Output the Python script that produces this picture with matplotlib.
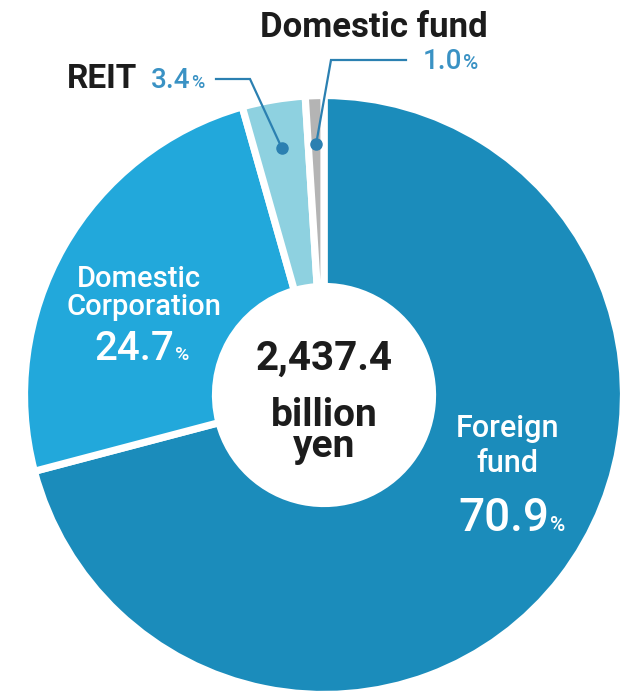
import numpy as np
import matplotlib
matplotlib.use("Agg")
import matplotlib.pyplot as plt

# shares of the total, clockwise from 12 o'clock
labels = ["Foreign fund", "Domestic Corporation", "REIT", "Domestic fund"]
shares = [70.9, 24.7, 3.4, 1.0]
colors = ["#1b8cbb", "#22a8db", "#8ed1e0", "#b4b4b4"]
total_text = ["2,437.4", "billion", "yen"]

W, H = 621, 694
BLUE = "#3a92c4"
LINE = "#2b80b1"
DARK = "#1c1c1c"
plt.rcParams['font.family'] = ['Roboto', 'DejaVu Sans']


def Y(y):
    # pixel row from the top -> data y
    return H - y


fig = plt.figure(figsize=(W / 100, H / 100), dpi=100)
ax = fig.add_axes([0, 0, 1, 1])

cx, cy = 324, Y(395)
r_out = 299.5
ring = 191
wedges, _ = ax.pie(shares, colors=colors, startangle=90, counterclock=False,
                   radius=r_out, center=(cx, cy), frame=True,
                   wedgeprops=dict(width=ring, edgecolor='white', linewidth=5.2))
ax.set_xlim(0, W)
ax.set_ylim(0, H)
ax.set_aspect('equal')
ax.axis('off')

# centre total
ax.text(cx, Y(370), total_text[0], ha='center', va='baseline', fontsize=29,
        fontweight='bold', color=DARK)
ax.text(cx, Y(457), total_text[1] + "\n" + total_text[2], ha='center',
        va='baseline', fontsize=28, fontweight='bold', color=DARK,
        linespacing=0.8, multialignment='center')


def mid_point(w, r):
    a = np.deg2rad((w.theta1 + w.theta2) / 2)
    return cx + r * np.cos(a), cy + r * np.sin(a)


# foreign fund (inside)
ax.text(508, Y(437), "Foreign", ha='center', va='baseline', fontsize=22,
        fontweight='medium', color='white')
ax.text(507, Y(472), "fund", ha='center', va='baseline', fontsize=22,
        fontweight='medium', color='white')
ax.text(549, Y(531), f"{shares[0]:.1f}", ha='right', va='baseline', fontsize=33,
        fontweight='medium', color='white')
ax.text(550, Y(531), "%", ha='left', va='baseline', fontsize=15,
        fontweight='medium', color='white')

# domestic corporation (inside)
ax.text(139, Y(287), "Domestic", ha='center', va='baseline', fontsize=21,
        fontweight='medium', color='white')
ax.text(144, Y(315), "Corporation", ha='center', va='baseline', fontsize=21,
        fontweight='medium', color='white')
ax.text(174, Y(360), f"{shares[1]:.1f}", ha='right', va='baseline', fontsize=29,
        fontweight='medium', color='white')
ax.text(175, Y(360), "%", ha='left', va='baseline', fontsize=14,
        fontweight='medium', color='white')

# REIT (outside, leader line)
ax.text(67, Y(88), "REIT", ha='left', va='baseline', fontsize=24,
        fontweight='bold', color=DARK)
ax.text(190, Y(88), f"{shares[2]:.1f}", ha='right', va='baseline', fontsize=20,
        fontweight='medium', color=BLUE)
ax.text(191, Y(88), "%", ha='left', va='baseline', fontsize=13,
        fontweight='medium', color=BLUE)
px, py = mid_point(wedges[2], 251)
ax.plot([216, 250, px], [Y(79), Y(79), py], color=LINE, lw=1.6,
        solid_joinstyle='miter')
ax.plot(px, py, 'o', color=LINE, ms=8)

# domestic fund (outside, leader line)
ax.text(374, Y(37), "Domestic fund", ha='center', va='baseline', fontsize=25,
        fontweight='bold', color=DARK)
ax.text(462, Y(69), f"{shares[3]:.1f}", ha='right', va='baseline', fontsize=20,
        fontweight='medium', color=BLUE)
ax.text(463, Y(69), "%", ha='left', va='baseline', fontsize=15,
        fontweight='medium', color=BLUE)
px, py = mid_point(wedges[3], 251)
ax.plot([406, 331, px], [Y(60), Y(60), py], color=LINE, lw=1.6,
        solid_joinstyle='miter')
ax.plot(px, py, 'o', color=LINE, ms=8)

fig.savefig("out.png", dpi=100)
